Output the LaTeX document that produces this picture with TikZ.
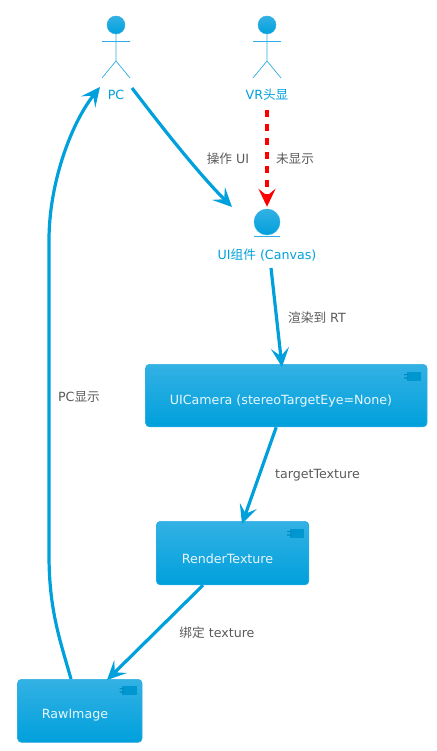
\documentclass[tikz,border=0pt]{standalone}
\usepackage{fontspec}
\setmainfont{DejaVu Sans}
\newfontfamily\cjk{Noto Sans CJK SC}
\usetikzlibrary{arrows.meta}
\definecolor{umlblue}{HTML}{00A0DC}
\definecolor{umltop}{HTML}{33B1E4}
\definecolor{umledge}{HTML}{2CADE3}
\definecolor{umltext}{HTML}{5A5A5A}
\definecolor{umlwhite}{HTML}{E8F7FD}
\tikzset{
  x=1pt,y=-1pt,
  comp/.style={draw=umledge,line width=.7pt,rounded corners=4pt,top color=umltop,bottom color=umlblue,
    inner sep=0pt,anchor=north west},
  comptext/.style={text=umlwhite,font=\fontsize{12.65}{14}\selectfont,inner sep=0pt},
  blob/.style={circle,inner sep=0pt,top color=umltop,bottom color=umlblue,draw=umledge,line width=.4pt},
  stick/.style={draw=umledge,line width=.7pt},
  actorname/.style={text=umlblue,font=\fontsize{12.65}{14}\selectfont,inner sep=0pt},
  edgelabel/.style={text=umltext,font=\fontsize{12.65}{14}\selectfont,inner sep=0pt},
  flow/.style={draw=umlblue,line width=3.2pt,-{Stealth[length=19pt,width=18pt,inset=8pt]}},
  hidden/.style={draw=red,line width=3.2pt,dash pattern=on 7pt off 7pt,-{Stealth[length=18pt,width=17pt,inset=7pt]}},
}
\newcommand{\stickman}[2]{%
  \draw[stick] (#1,34) -- (#1,61) (#1-14,41.5) -- (#1+14,41.5) (#1-14,78) -- (#1,61) -- (#1+14,78);
  \node[blob,minimum size=18pt] (#2) at (#1,25) {};
}
\newcommand{\compicon}[2]{%
  \fill[umlblue!94!black] (#1+2.5,#2) rectangle (#1+17,#2+8.5);
  \fill[umlblue!85!black] (#1,#2+2) rectangle (#1+4.5,#2+3.2) (#1,#2+5.3) rectangle (#1+4.5,#2+6.5);
}
\begin{document}
\begin{tikzpicture}
\useasboundingbox (0,0) rectangle (436,751);
\stickman{116}{pchead}
\stickman{267}{vrhead}
\node[actorname] (pc) at (116,95) {PC};
\node[actorname] (vr) at (267,95) {VR{\cjk 头显}};
\node[blob,minimum size=26pt] (entity) at (267,222) {};
\draw[stick] (254,236.5) -- (280,236.5);
\node[actorname] (canvas) at (267,255) {UI{\cjk 组件} (Canvas)};
\node[comp,minimum width=281.5pt,minimum height=62.5pt] (uicam) at (145.2,364) {};
\node[comptext] (uicamt) at (281,401.5) {UICamera (stereoTargetEye=None)};
\compicon{404}{372}
\node[comp,minimum width=152.5pt,minimum height=63.5pt] (rt) at (156,521) {};
\node[comptext] (rtt) at (227.5,558.5) {RenderTexture};
\compicon{287}{529}
\node[comp,minimum width=124.5pt,minimum height=63pt] (raw) at (17.2,679) {};
\node[comptext] (rawt) at (75,715.5) {RawImage};
\compicon{119.5}{686}
\coordinate (pcout) at (132,88);
\coordinate (pcin) at (100,87);
\coordinate (vrout) at (267,110);
\coordinate (entityin) at (232,207);
\coordinate (canvasout) at (271,268);
\draw[flow] (pcout) .. controls (155,118) and (195,170) .. (entityin);
\draw[hidden] (vrout) -- ([yshift=2pt]entity.north);
\draw[flow] (canvasout) -- ([xshift=136.8pt,yshift=-3pt]uicam.north west);
\draw[flow] ([xshift=131pt]uicam.south west) -- ([xshift=86pt,yshift=-3pt]rt.north west);
\draw[flow] ([xshift=47pt]rt.south west) -- ([xshift=89.8pt,yshift=-1pt]raw.north west);
\draw[flow] ([xshift=53.8pt]raw.north west) .. controls (60,640) and (49,610) .. (49,555)
  -- (49,240) .. controls (49,185) and (70,125) .. (pcin);
\node[edgelabel] (l1) at (228,158.5) {{\cjk 操作} UI};
\node[edgelabel] (l2) at (295,158.5) {\cjk 未显示};
\node[edgelabel] (l3) at (317,317.5) {{\cjk 渲染到} RT};
\node[edgelabel] (l4) at (317.5,475.5) {targetTexture};
\node[edgelabel] (l5) at (217,632.5) {{\cjk 绑定} texture};
\node[edgelabel] (l6) at (79,396.5) {PC{\cjk 显示}};
\end{tikzpicture}
\end{document}
